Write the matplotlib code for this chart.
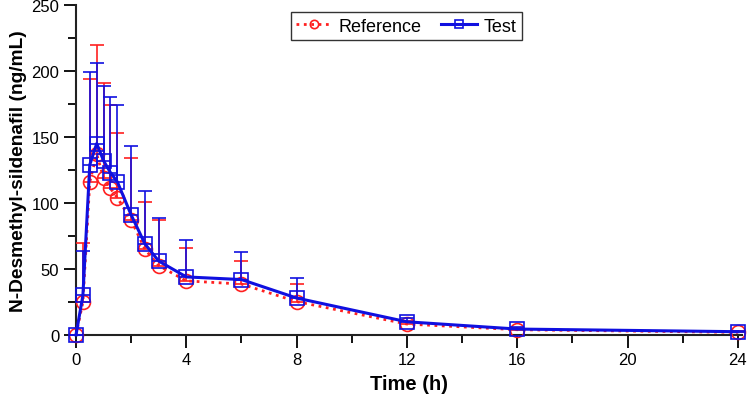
import matplotlib
matplotlib.use("Agg")
import matplotlib.pyplot as plt
import numpy as np
from matplotlib.ticker import MultipleLocator

plt.rcParams["font.family"] = ["Liberation Sans", "DejaVu Sans"]

time_h = [0, 0.25, 0.5, 0.75, 1, 1.25, 1.5, 2, 2.5, 3, 4, 6, 8, 12, 16, 24]

ref_mean = [0, 25, 116, 137, 119, 111, 104, 87, 65, 52.5, 41, 38.6, 25.3, 8.3, 4, 2]
ref_sd = [0, 45, 78, 83, 72, 63, 49, 47, 36, 34.5, 25, 17.5, 13, 2.5, 1, 0.8]

test_mean = [0, 30, 129, 145, 132, 123, 116, 91, 69, 56, 44, 42, 28, 10, 4.5, 2.5]
test_sd = [0, 34, 70, 61, 57, 57, 58, 52, 40, 33, 28, 21, 15, 3, 1.5, 0.8]

RED = "#ff2020"
BLUE = "#1010e0"

fig = plt.figure(figsize=(7.48, 4.02), dpi=100)
ax = fig.add_axes([76 / 748, 66 / 402, 666 / 748, 330 / 402])

zeros = np.zeros(len(time_h))

ref = ax.errorbar(time_h, ref_mean, yerr=[zeros, ref_sd], color=RED, ecolor=RED,
                  linestyle=":", linewidth=2, marker="o", markersize=10,
                  markerfacecolor="none", markeredgecolor=RED, markeredgewidth=1.2,
                  elinewidth=1.2, capsize=5, capthick=1.2, label="Reference",
                  clip_on=False, zorder=3)
test = ax.errorbar(time_h, test_mean, yerr=[zeros, test_sd], color=BLUE, ecolor=BLUE,
                   linestyle="-", linewidth=2.2, marker="s", markersize=10,
                   markerfacecolor="none", markeredgecolor=BLUE, markeredgewidth=1.2,
                   elinewidth=1.2, capsize=5, capthick=1.2, label="Test",
                   clip_on=False, zorder=4)
for art in (ref, test):
    for child in art.get_children():
        child.set_clip_on(False)

ax.set_xlim(0, 24.15)
ax.set_ylim(0, 250)
ax.xaxis.set_major_locator(MultipleLocator(4))
ax.xaxis.set_minor_locator(MultipleLocator(2))
ax.yaxis.set_major_locator(MultipleLocator(50))
ax.yaxis.set_minor_locator(MultipleLocator(25))

for side in ("top", "right"):
    ax.spines[side].set_visible(False)
for side in ("left", "bottom"):
    ax.spines[side].set_linewidth(1.5)
    ax.spines[side].set_color("#222222")

ax.tick_params(which="major", length=9, width=1.3, labelsize=12, direction="out", pad=3)
ax.tick_params(which="minor", length=5.5, width=1.3, direction="out")

ax.set_xlabel("Time (h)", fontsize=14.5, fontweight="bold", labelpad=5)
ax.set_ylabel("N-Desmethyl-sildenafil (ng/mL)", fontsize=13.8, fontweight="bold", labelpad=3)

leg = ax.legend(handles=[ref.lines[0], test.lines[0]], labels=["Reference", "Test"],
                loc="upper center", bbox_to_anchor=(0.496, 1.005),
                ncol=2, fontsize=13, frameon=True, fancybox=False, edgecolor="black",
                handlelength=2.0, columnspacing=1.1, borderpad=0.3, handletextpad=0.35,
                markerscale=0.6)
leg.get_frame().set_linewidth(1.0)

fig.savefig("out.png", dpi=100)
